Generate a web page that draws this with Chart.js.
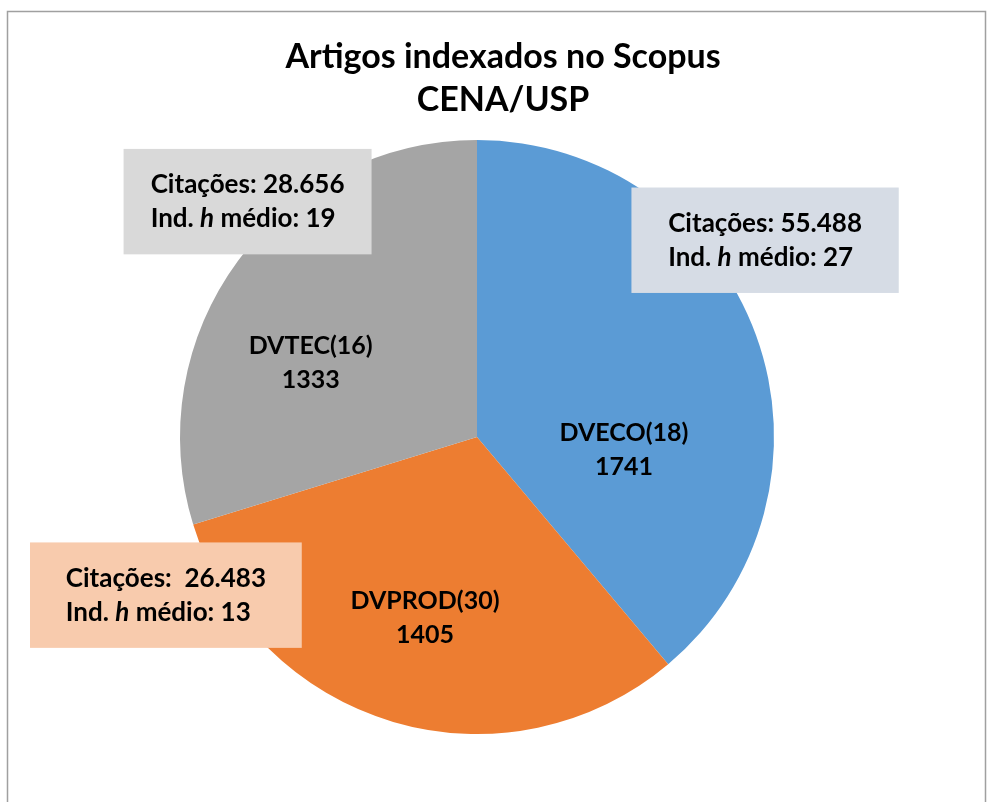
<!DOCTYPE html>
<html>
<head>
<meta charset="utf-8">
<script src="https://cdn.jsdelivr.net/npm/chart.js@4.4.0/dist/chart.umd.min.js"></script>
<style>
  html, body { margin: 0; padding: 0; background: #fff; }
  #wrap { width: 987px; height: 802px; position: relative; }
</style>
</head>
<body>
<div id="wrap"><canvas id="pie"></canvas></div>
<script>
const titleLines = ['Artigos indexados no Scopus', 'CENA/USP'];
const divisions = ['DVECO', 'DVPROD', 'DVTEC'];
const groups = [18, 30, 16];
const articles = [1741, 1405, 1333];
const citations = ['55.488', ' 26.483', '28.656'];
const hIndex = [27, 13, 19];
const sliceColors = ['#5B9BD5', '#ED7D31', '#A5A5A5'];
const boxColors = ['#D6DCE5', '#F8CBAD', '#D9D9D9'];

const FONT = 'Lato, "Open Sans", sans-serif';

// label / callout placement, relative to pie centre, in units of radius
const labelOffsets = [[0.495, 0.045], [-0.175, 0.61], [-0.56, -0.25]];
const boxRects = [[0.52, -0.84, 0.9, 0.355], [-1.505, 0.355, 0.915, 0.355], [-1.19, -0.97, 0.835, 0.355]];

const overlay = {
  id: 'overlay',
  afterDraw(chart) {
    const ctx = chart.ctx;
    const arc = chart.getDatasetMeta(0).data[0];
    const cx = arc.x, cy = arc.y, r = arc.outerRadius;

    // frame
    ctx.save();
    ctx.strokeStyle = '#A0A0A0';
    ctx.lineWidth = 1.5;
    ctx.beginPath();
    ctx.moveTo(7.5, 802);
    ctx.lineTo(7.5, 11.5);
    ctx.lineTo(985.5, 11.5);
    ctx.lineTo(985.5, 802);
    ctx.stroke();

    // title
    ctx.fillStyle = '#000';
    ctx.textAlign = 'center';
    ctx.textBaseline = 'middle';
    ctx.font = 'bold 34px ' + FONT;
    ctx.fillText(titleLines[0], 503, 57);
    ctx.fillText(titleLines[1], 503, 100);

    // slice labels
    ctx.font = 'bold 25px ' + FONT;
    divisions.forEach((d, i) => {
      const x = cx + labelOffsets[i][0] * r;
      const y = cy + labelOffsets[i][1] * r;
      ctx.fillText(d + '(' + groups[i] + ')', x, y - 17);
      ctx.fillText(String(articles[i]), x, y + 17);
    });

    // callout boxes
    ctx.textAlign = 'left';
    const f = 'bold 26px ' + FONT;
    divisions.forEach((d, i) => {
      const [bx, by, bw, bh] = boxRects[i];
      const x = cx + bx * r, y = cy + by * r, w = bw * r, h = bh * r;
      ctx.fillStyle = boxColors[i];
      ctx.fillRect(x, y, w, h);
      ctx.fillStyle = '#000';
      ctx.font = f;
      const line1 = 'Citações: ' + citations[i];
      const tx = x + w / 2 - ctx.measureText(line1).width / 2;
      const ty = y + h / 2;
      ctx.fillText(line1, tx, ty - 17);
      let px = tx;
      ctx.fillText('Ind. ', px, ty + 17);
      px += ctx.measureText('Ind. ').width;
      ctx.font = 'italic ' + f;
      ctx.fillText('h', px, ty + 17);
      px += ctx.measureText('h').width;
      ctx.font = f;
      ctx.fillText(' médio: ' + hIndex[i], px, ty + 17);
    });
    ctx.restore();
  }
};

new Chart(document.getElementById('pie'), {
  type: 'pie',
  data: {
    labels: divisions,
    datasets: [{
      data: articles,
      backgroundColor: sliceColors,
      borderWidth: 0
    }]
  },
  options: {
    responsive: true,
    maintainAspectRatio: false,
    animation: false,
    layout: { padding: { left: 180, right: 213, top: 140, bottom: 68 } },
    plugins: {
      legend: { display: false },
      tooltip: { enabled: false },
      title: { display: false }
    }
  },
  plugins: [overlay]
});
</script>
</body>
</html>
